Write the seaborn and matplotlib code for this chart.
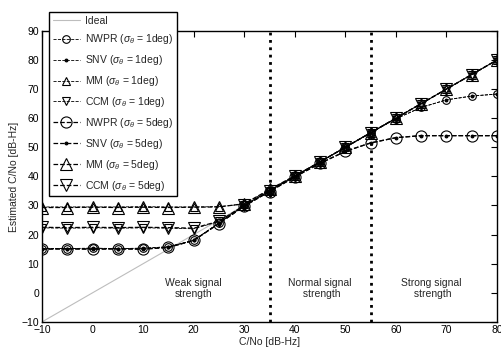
import numpy as np
import pandas as pd
import matplotlib
matplotlib.use('Agg')
import matplotlib.pyplot as plt
import seaborn as sns

# C/No sweep [dB-Hz]
cn0 = [-10, -5, 0, 5, 10, 15, 20, 25, 30, 35, 40, 45, 50, 55, 60, 65, 70, 75, 80]

# estimated C/No
nwpr_1 = [15.2, 15.2, 15.3, 15.2, 15.3, 15.8, 18.0, 24.0, 30.0, 35.0, 40.0, 45.0, 50.0, 55.0, 59.8, 63.7, 66.3, 67.6, 68.3]
snv_1 = [15.2, 15.2, 15.3, 15.2, 15.3, 15.8, 18.0, 24.0, 30.0, 35.0, 40.0, 45.0, 50.0, 55.0, 59.8, 63.7, 66.3, 67.6, 68.3]
mm_1 = [29.5, 29.5, 29.5, 29.5, 29.6, 29.5, 29.5, 29.6, 30.5, 35.4, 40.2, 45.0, 50.0, 55.0, 60.0, 65.0, 70.0, 75.0, 80.0]
ccm_1 = [22.3, 22.2, 22.3, 22.2, 22.3, 22.2, 22.0, 24.5, 30.0, 35.0, 40.0, 45.0, 50.0, 55.0, 60.0, 65.0, 70.0, 75.0, 80.0]
nwpr_5 = [15.0, 15.1, 15.0, 15.1, 15.0, 15.6, 18.0, 23.8, 29.8, 34.8, 39.8, 44.5, 48.6, 51.5, 53.3, 54.0, 54.0, 54.0, 54.0]
snv_5 = [15.0, 15.1, 15.0, 15.1, 15.0, 15.6, 18.0, 23.8, 29.8, 34.8, 39.8, 44.5, 48.6, 51.5, 53.3, 54.0, 54.0, 54.0, 54.0]
mm_5 = [29.3, 29.3, 29.4, 29.3, 29.4, 29.3, 29.4, 29.5, 30.6, 35.5, 40.2, 45.0, 50.0, 55.0, 60.0, 65.0, 70.0, 75.0, 80.0]
ccm_5 = [22.5, 22.4, 22.5, 22.4, 22.5, 22.4, 22.2, 24.6, 30.0, 35.0, 40.0, 45.0, 50.0, 55.0, 60.0, 65.0, 70.0, 75.0, 80.0]

boundaries = [35, 55]
region_labels = ['Weak signal\nstrength', 'Normal signal\n strength', 'Strong signal\n strength']
region_x = [20, 45, 67]

sns.set_style('white')
plt.rcParams['font.family'] = ['Liberation Sans', 'DejaVu Sans']
plt.rcParams['mathtext.fontset'] = 'custom'
plt.rcParams['mathtext.rm'] = 'Liberation Sans'
plt.rcParams['mathtext.it'] = 'Liberation Sans:italic'
plt.rcParams['mathtext.sf'] = 'Liberation Sans'

fig = plt.figure(figsize=(5.01, 3.51), dpi=100)
ax = fig.add_axes([0.084, 0.083, 0.908, 0.829])

sns.lineplot(x=cn0, y=cn0, ax=ax, color='#bdbdbd', lw=0.8, label='Ideal')

series = [
    (nwpr_1, 'NWPR', 1, 'o', 5.5, 'none', 0.6),
    (snv_1, 'SNV', 1, '.', 4, 'k', 0.6),
    (mm_1, 'MM', 1, '^', 5.5, 'none', 0.6),
    (ccm_1, 'CCM', 1, 'v', 5.5, 'none', 0.6),
    (nwpr_5, 'NWPR', 5, 'o', 8, 'none', 0.9),
    (snv_5, 'SNV', 5, '.', 4, 'k', 0.9),
    (mm_5, 'MM', 5, '^', 8, 'none', 0.9),
    (ccm_5, 'CCM', 5, 'v', 8, 'none', 0.9),
]
for vals, name, sig, mk, ms, mfc, lw in series:
    sns.lineplot(x=cn0, y=vals, ax=ax, color='k', lw=lw, linestyle='--',
                 dashes=(6, 3), marker=mk, markersize=ms, markerfacecolor=mfc,
                 markeredgecolor='k', markeredgewidth=0.8,
                 label=name + r' ($\sigma_\theta$ = ' + str(sig) + 'deg)')

for b in boundaries:
    ax.axvline(b, color='k', lw=2, linestyle=':')

for tx, lbl in zip(region_x, region_labels):
    ax.text(tx, 1.5, lbl, ha='center', va='center', fontsize=7.5)

ax.set_xlim(-10, 80)
ax.set_ylim(-10, 90)
ax.set_xticks(np.arange(-10, 81, 10))
ax.set_yticks(np.arange(-10, 91, 10))
ax.tick_params(direction='in', top=True, right=True, length=4, width=0.8,
               labelsize=7.5, pad=2, colors='k')
for s in ax.spines.values():
    s.set_color('k')
    s.set_linewidth(1)
ax.set_xlabel('C/No [dB-Hz]', fontsize=7.5, labelpad=2)
ax.set_ylabel('Estimated C/No [dB-Hz]', fontsize=7.5, labelpad=2)

leg = ax.legend(loc='upper left', bbox_to_anchor=(0.015, 1.065), borderaxespad=0,
                fontsize=7.5, frameon=True, fancybox=False, edgecolor='k',
                framealpha=1, handlelength=2.6, labelspacing=0.66,
                borderpad=0.35, handletextpad=0.5)
leg.get_frame().set_linewidth(1)
leg.set_zorder(10)

fig.savefig('out.png', dpi=100)
